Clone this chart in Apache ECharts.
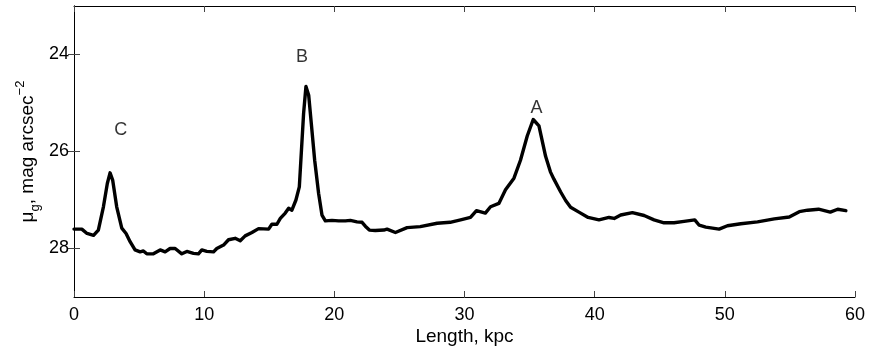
<!DOCTYPE html>
<html>
<head>
<meta charset="utf-8">
<script src="https://cdn.jsdelivr.net/npm/echarts@6/dist/echarts.min.js"></script>
<style>
html,body{margin:0;padding:0;background:#fff;}
#chart{width:872px;height:346px;}
</style>
</head>
<body>
<div id="chart"></div>
<script>
// Length along the profile, kpc
var lengthKpc = [0.0,0.6,1.0,1.5,1.87,2.26,2.56,2.77,2.97,3.28,3.67,4.0,4.31,4.69,5.08,5.33,5.59,6.1,6.62,7.0,7.38,7.77,8.28,8.67,9.18,9.56,9.82,10.2,10.72,10.97,11.49,11.87,12.0,12.38,12.77,13.15,13.67,14.18,14.95,15.2,15.59,15.85,16.23,16.49,16.74,17.05,17.31,17.46,17.64,17.82,18.03,18.23,18.49,18.79,19.05,19.31,19.82,20.33,20.85,21.23,21.74,22.13,22.38,22.69,23.15,23.8,24.05,24.69,25.59,26.6,27.9,28.9,29.7,30.46,30.92,31.6,32.0,32.64,33.15,33.8,34.3,34.82,35.28,35.72,36.23,36.6,36.87,37.38,37.77,38.15,38.79,39.5,40.33,41.1,41.5,42.0,42.9,43.8,44.56,45.33,46.1,46.87,47.69,48.03,48.54,49.56,50.2,51.23,52.51,53.8,54.95,55.72,56.36,57.2,58.1,58.67,59.3];
// Surface brightness mu_g, mag arcsec^-2
var muG = [27.60,27.60,27.69,27.73,27.62,27.14,26.66,26.44,26.59,27.14,27.58,27.69,27.86,28.03,28.07,28.05,28.11,28.11,28.03,28.07,28.00,28.00,28.11,28.06,28.10,28.11,28.03,28.06,28.07,28.00,27.93,27.82,27.79,27.79,27.84,27.74,27.67,27.59,27.60,27.50,27.50,27.38,27.27,27.17,27.21,27.00,26.73,26.04,25.21,24.66,24.84,25.42,26.18,26.86,27.31,27.43,27.42,27.43,27.43,27.42,27.45,27.46,27.54,27.62,27.63,27.62,27.60,27.67,27.57,27.55,27.48,27.46,27.41,27.36,27.22,27.27,27.14,27.07,26.79,26.55,26.18,25.68,25.34,25.47,26.10,26.42,26.57,26.83,27.01,27.15,27.25,27.36,27.41,27.36,27.38,27.31,27.26,27.32,27.41,27.47,27.47,27.44,27.41,27.52,27.56,27.60,27.53,27.49,27.45,27.39,27.35,27.24,27.21,27.19,27.25,27.19,27.22];
// Peak annotations
var peakNames = ['C','B','A'];
var peakX = [3.59,17.51,35.54];
var peakY = [25.56,24.06,25.10];
// Axis ticks
var yTicks = [24,26,28];
var xTicks = [0,10,20,30,40,50,60];

var FONT = '"Liberation Sans", Arial, Helvetica, sans-serif';
var lineData = lengthKpc.map(function(x,i){return [x, muG[i]];});
var peakData = peakNames.map(function(n,i){return {name:n, value:[peakX[i], peakY[i]]};});

var chart = echarts.init(document.getElementById('chart'), null, {renderer:'canvas'});
var axisLineStyle = {show:true, lineStyle:{color:'#000', width:1}};
var tickStyle = {show:true, inside:true, length:6, lineStyle:{color:'#444', width:1}};
chart.setOption({
  animation:false,
  backgroundColor:'#fff',
  grid:{left:74, right:17, top:6, bottom:49, containLabel:false, outerBoundsMode:'none'},
  xAxis:[{
    type:'value', position:'bottom', min:0, max:60, interval:10,
    axisLine:axisLineStyle, axisTick:tickStyle, splitLine:{show:false},
    axisLabel:{show:true, color:'#000', fontSize:18, fontFamily:FONT, margin:9},
    name:'Length, kpc', nameLocation:'middle', nameGap:30, nameMoveOverlap:false,
    nameTextStyle:{color:'#000', fontSize:19, fontFamily:FONT}
  },{
    type:'value', position:'top', min:0, max:60, interval:10,
    axisLine:axisLineStyle, axisTick:tickStyle, splitLine:{show:false},
    axisLabel:{show:false}
  }],
  yAxis:[{
    type:'value', position:'left', min:23, max:29, inverse:true,
    axisLine:axisLineStyle,
    axisTick:Object.assign({customValues:yTicks}, tickStyle),
    splitLine:{show:false},
    axisLabel:{show:true, customValues:yTicks, color:'#000', fontSize:18, fontFamily:FONT, margin:5},
    name:'{m|\u03bc}{s|g}{m|, mag arcsec}{p|\u22122}',
    nameLocation:'middle', nameRotate:90, nameGap:32, nameMoveOverlap:false,
    nameTextStyle:{
      color:'#000', fontFamily:FONT,
      rich:{
        m:{fontSize:19, fontFamily:FONT, color:'#000', lineHeight:28, verticalAlign:'middle'},
        s:{fontSize:13, fontFamily:FONT, color:'#000', verticalAlign:'bottom', lineHeight:12},
        p:{fontSize:13, fontFamily:FONT, color:'#000', verticalAlign:'top', lineHeight:12}
      }
    }
  },{
    type:'value', position:'right', min:23, max:29, inverse:true,
    axisLine:axisLineStyle,
    axisTick:Object.assign({customValues:yTicks}, tickStyle),
    splitLine:{show:false}, axisLabel:{show:false}
  }],
  series:[{
    type:'line', xAxisIndex:0, yAxisIndex:0, data:lineData,
    showSymbol:false, symbol:'none', smooth:false,
    lineStyle:{color:'#000', width:3.4, join:'round', cap:'round'},
    silent:true
  },{
    type:'scatter', xAxisIndex:0, yAxisIndex:0, data:peakData,
    symbol:'circle', symbolSize:0, itemStyle:{color:'#000'},
    silent:true,
    label:{show:true, position:'inside', formatter:'{b}', color:'#000', fontSize:18, fontFamily:FONT, textBorderWidth:0}
  }]
});
</script>
</body>
</html>
